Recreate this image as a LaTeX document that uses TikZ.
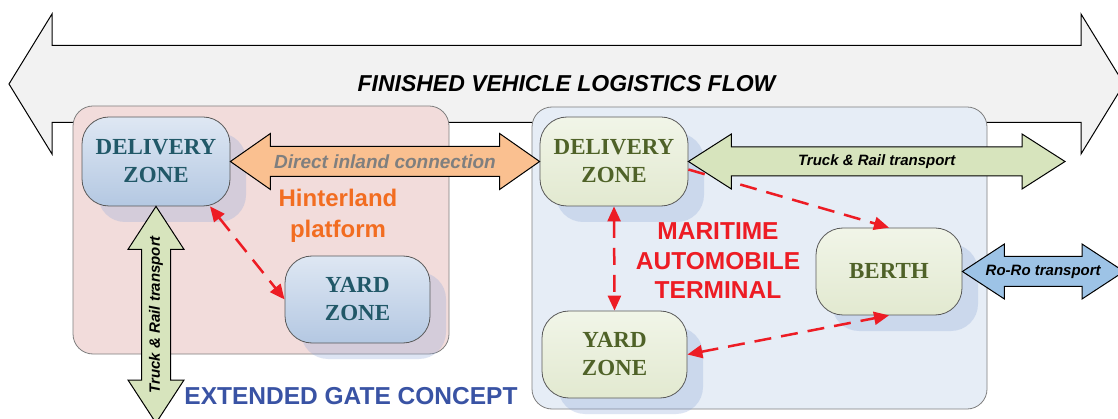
\documentclass[tikz,border=0pt]{standalone}
\usepackage{fontspec}
\setmainfont{Liberation Serif}
\setsansfont{Liberation Sans}
\usetikzlibrary{calc, arrows.meta, shadows}

\definecolor{flowfill}{HTML}{F2F2F2}
\definecolor{pinkfill}{HTML}{F2DCDB}
\definecolor{bluefill}{HTML}{E6EDF6}
\definecolor{frame}{HTML}{7F7F7F}
\definecolor{shadowblue}{HTML}{8FA8D8}
\definecolor{zoneblueA}{HTML}{DEE7F3}
\definecolor{zoneblueB}{HTML}{B4C8E2}
\definecolor{zonegreenA}{HTML}{F1F5E8}
\definecolor{zonegreenB}{HTML}{E2E9D0}
\definecolor{tealtext}{HTML}{215868}
\definecolor{olivetext}{HTML}{4F6228}
\definecolor{railgreen}{HTML}{D7E4BD}
\definecolor{inlandorange}{HTML}{FAC090}
\definecolor{roroblue}{HTML}{9DC3E6}
\definecolor{linkred}{HTML}{ED1C24}
\definecolor{hinterorange}{HTML}{F26D21}
\definecolor{gateblue}{HTML}{3953A4}

\begin{document}
\begin{tikzpicture}[x=1pt, y=-1pt,
    zone/.style={rectangle, rounded corners=27pt, draw=black!65, line width=0.8pt,
        minimum width=148pt, minimum height=89pt, align=center,
        font=\fontsize{23}{28}\selectfont\bfseries,
        general shadow={fill=shadowblue, opacity=0.3, shadow xshift=16pt, shadow yshift=-16pt}},
    hinterzone/.style={zone, top color=zoneblueA, bottom color=zoneblueB, text=tealtext},
    portzone/.style={zone, top color=zonegreenA, bottom color=zonegreenB, text=olivetext},
    area/.style={draw=frame, line width=0.8pt, rounded corners=20pt},
    blockarrow/.style={draw=black, line width=1pt, line join=miter},
    arrowtext/.style={font=\sffamily\bfseries\itshape\fontsize{15}{18}\selectfont},
    reddash/.style={draw=linkred, line width=2.5pt, dash pattern=on 17pt off 10pt,
        >={Triangle[length=15pt,width=13pt]}},
    title/.style={font=\sffamily\bfseries\fontsize{24.5}{29.5}\selectfont, align=center}]
    \useasboundingbox[fill=white] (0,0) rectangle (1118,419);

    % Finished vehicle logistics flow (big double arrow)
    \coordinate (flowL) at (9,84);
    \coordinate (flowR) at (1124,84);
    \draw[blockarrow, fill=flowfill] (flowL) -- ++(43,-70) -- ++(0,31.5) -- ($(flowR)+(-43,-38.5)$)
        -- ++(0,-31.5) -- (flowR) -- ++(-43,70) -- ++(0,-31.5) -- ($(flowL)+(43,38.5)$) -- ++(0,31.5) -- cycle;
    \node[font=\sffamily\bfseries\itshape\fontsize{23}{28}\selectfont] (flow) at ($(flowL)!0.5!(flowR)$) {FINISHED VEHICLE LOGISTICS FLOW};

    % Areas
    \draw[area, fill=pinkfill] (73,106) rectangle (449,354);
    \draw[area, fill=bluefill] (532,107) rectangle (987,409);

    % Hinterland platform zones
    \node[hinterzone] (dzL) at (156,161.5) {DELIVERY\\ZONE};
    \node[hinterzone, minimum width=145pt, minimum height=87pt] (yzL) at (357.5,299.5) {YARD\\ZONE};

    % Terminal zones
    \node[portzone] (dzR) at (614,161.5) {DELIVERY\\ZONE};
    \node[portzone, minimum width=145pt, minimum height=87pt] (yzR) at (614.5,354.5) {YARD\\ZONE};
    \node[portzone, minimum width=146pt, minimum height=87pt] (berth) at (889,271.5) {BERTH};

    % Internal moves
    \draw[reddash, <->] ([xshift=54pt]dzL.south) -- (yzL.west);
    \draw[reddash, <->] (dzR.south) -- (yzR.north);
    \draw[reddash, ->] ([yshift=-8pt]dzR.east) -- (berth.north);
    \draw[reddash, <->] (yzR.east) -- (berth.south);

    % Direct inland connection
    \draw[blockarrow, fill=inlandorange] (dzL.east) -- ++(40,-28) -- ++(0,13) -- ($(dzR.west)+(-40,-15)$)
        -- ++(0,-13) -- (dzR.west) -- ++(-40,28) -- ++(0,-13) -- ($(dzL.east)+(40,15)$) -- ++(0,13) -- cycle;
    \node[font=\sffamily\bfseries\itshape\fontsize{19}{22}\selectfont, text=frame] (inland) at ($(dzL.east)!0.5!(dzR.west)$) {Direct inland connection};

    % Truck & Rail transport (terminal)
    \coordinate (railE) at (1065,161.5);
    \draw[blockarrow, fill=railgreen] (dzR.east) -- ++(43,-27.5) -- ++(0,13) -- ($(railE)+(-43,-14.5)$)
        -- ++(0,-13) -- (railE) -- ++(-43,27.5) -- ++(0,-13) -- ($(dzR.east)+(43,14.5)$) -- ++(0,13) -- cycle;
    \node[arrowtext] (railtext) at ($(dzR.east)!0.5!(railE)$) {Truck \& Rail transport};

    % Ro-Ro transport
    \coordinate (roroE) at (1124,271.5);
    \draw[blockarrow, fill=roroblue] (berth.east) -- ++(42,-27.5) -- ++(0,12.5) -- ($(roroE)+(-42,-15)$)
        -- ++(0,-12.5) -- (roroE) -- ++(-42,27.5) -- ++(0,-12.5) -- ($(berth.east)+(42,15)$) -- ++(0,12.5) -- cycle;
    \node[arrowtext] (rorotext) at ($(berth.east)!0.5!(roroE)$) {Ro-Ro transport};

    % Truck & Rail transport (hinterland)
    \coordinate (railS) at (156,423);
    \draw[blockarrow, fill=railgreen] (dzL.south) -- ++(28,43) -- ++(-13.5,0) -- ($(railS)+(14.5,-43)$)
        -- ++(13.5,0) -- (railS) -- ++(-28,-43) -- ++(13.5,0) -- ($(dzL.south)+(-14.5,43)$) -- ++(-13.5,0) -- cycle;
    \node[arrowtext, rotate=90] (railtextS) at ($(dzL.south)!0.5!(railS)$) {Truck \& Rail transport};

    % Titles
    \node[title, text=hinterorange, font=\sffamily\bfseries\fontsize{24}{31}\selectfont] (hinter) at (338,216) {Hinterland\\platform};
    \node[title, text=linkred] (terminal) at (718,261) {MARITIME\\AUTOMOBILE\\TERMINAL};
    \node[title, text=gateblue] (gate) at (351,396) {EXTENDED GATE CONCEPT};
\end{tikzpicture}
\end{document}
